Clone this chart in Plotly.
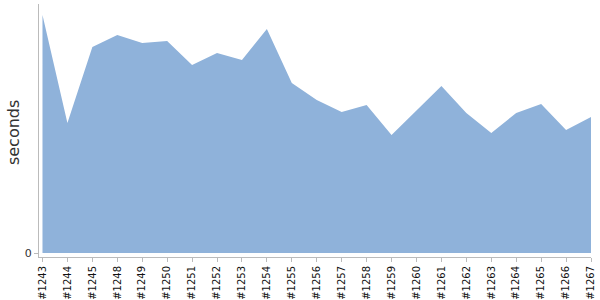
import plotly.graph_objects as go

builds = ["#1243", "#1244", "#1245", "#1248", "#1249", "#1250", "#1251", "#1252",
          "#1253", "#1254", "#1255", "#1256", "#1257", "#1258", "#1259", "#1260",
          "#1261", "#1262", "#1263", "#1264", "#1265", "#1266", "#1267"]
seconds = [238, 130, 206, 218, 210, 212, 188, 200,
           193, 224, 170, 153, 141, 148, 118, 143,
           167, 140, 120, 140, 149, 123, 136]

fill_color = "rgb(143,178,218)"

fig = go.Figure()
fig.add_trace(go.Scatter(
    x=list(range(len(builds))), y=seconds,
    mode="lines", fill="tozeroy",
    line=dict(color=fill_color, width=0),
    fillcolor=fill_color,
    hoverinfo="skip",
))

font_family = "DejaVu Sans"
fig.update_layout(
    width=600, height=300,
    margin=dict(l=39, r=9, t=4, b=43),
    paper_bgcolor="white", plot_bgcolor="white",
    showlegend=False,
    font=dict(family=font_family, color="#222"),
    xaxis=dict(
        range=[-0.14, len(builds) - 1],
        tickmode="array",
        tickvals=list(range(len(builds))),
        ticktext=builds,
        tickangle=-90,
        tickfont=dict(size=10, color="#111"),
        ticks="outside", ticklen=4, tickcolor="#bbb",
        showline=True, linecolor="#bbb", linewidth=1,
        showgrid=False, zeroline=False, automargin=False,
    ),
    yaxis=dict(
        range=[-4, 249],
        tickmode="array", tickvals=[0], ticktext=["0"],
        tickfont=dict(size=11, color="#333"),
        ticks="outside", ticklen=4, tickcolor="#bbb",
        showline=True, linecolor="#bbb", linewidth=1,
        showgrid=False, zeroline=False, automargin=False,
    ),
    annotations=[dict(
        text="seconds", xref="paper", yref="paper",
        x=-0.047, y=0.49, xanchor="center", yanchor="middle",
        textangle=-90, showarrow=False,
        font=dict(size=16, color="#333", family=font_family),
    )],
)

fig.write_html("out.html")
